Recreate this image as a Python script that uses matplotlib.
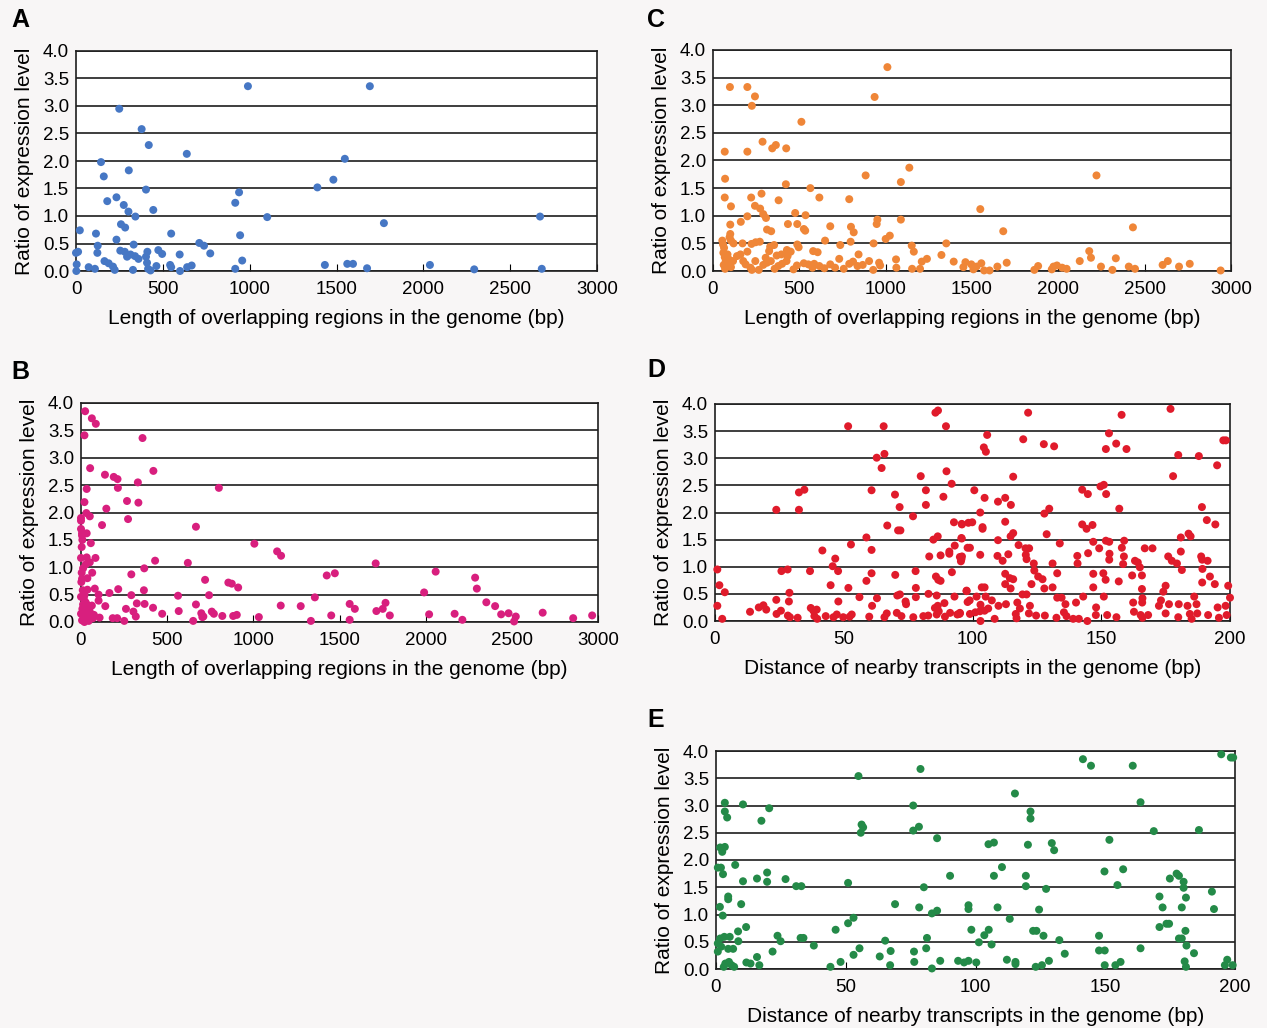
import numpy as np
import matplotlib
matplotlib.use('Agg')
import matplotlib.pyplot as plt

plt.rcParams['font.family'] = ['Liberation Sans', 'DejaVu Sans']

# (length or distance, ratio)
a_pts = [(990, 3.36), (1692, 3.36), (249, 2.95), (378, 2.58), (419, 2.29), (638, 2.13),
         (144, 1.98), (1548, 2.04), (160, 1.72), (304, 1.83), (1482, 1.66), (1390, 1.52),
         (403, 1.48), (939, 1.43), (917, 1.24), (180, 1.27), (233, 1.34), (275, 1.20),
         (302, 1.08), (342, 0.99), (445, 1.11), (1101, 0.98), (2672, 0.99), (1773, 0.87),
         (259, 0.85), (283, 0.79), (22, 0.74), (115, 0.68), (548, 0.68), (945, 0.65),
         (233, 0.57), (125, 0.46), (332, 0.48), (710, 0.51), (737, 0.46), (773, 0.32),
         (0, 0.33), (12, 0.35), (123, 0.33), (255, 0.37), (281, 0.35), (294, 0.26),
         (314, 0.30), (340, 0.27), (360, 0.22), (411, 0.35), (403, 0.26), (474, 0.38),
         (496, 0.31), (597, 0.30), (164, 0.18), (188, 0.14), (213, 0.08), (223, 0.02),
         (73, 0.07), (109, 0.04), (4, 0.12), (2, 0.0), (328, 0.02), (415, 0.04),
         (429, 0.01), (463, 0.09), (409, 0.15), (542, 0.11), (548, 0.07), (599, 0.0),
         (640, 0.07), (666, 0.10), (917, 0.04), (957, 0.19), (1433, 0.11), (1562, 0.13),
         (1595, 0.13), (1676, 0.05), (2038, 0.11), (2293, 0.03), (2682, 0.04)]

b_pts = [(24, 3.85), (63, 3.72), (86, 3.62), (20, 3.41), (357, 3.36), (53, 2.81), (420, 2.76),
         (139, 2.69), (190, 2.65), (212, 2.61), (330, 2.55), (33, 2.43), (214, 2.45), (800, 2.45),
         (20, 2.19), (267, 2.21), (333, 2.18), (147, 2.07), (31, 1.99), (51, 1.93), (273, 1.88),
         (0, 1.90), (0, 1.85), (0, 1.70), (6, 1.62), (6, 1.58), (122, 1.77), (667, 1.74),
         (33, 1.62), (57, 1.44), (1006, 1.43), (1138, 1.29), (1161, 1.21), (0, 1.17), (33, 1.18),
         (51, 1.09), (84, 1.17), (430, 1.12), (620, 1.08), (1710, 1.07), (367, 0.98), (2058, 0.92),
         (65, 0.90), (292, 0.87), (1426, 0.85), (1473, 0.89), (2287, 0.81), (6, 0.79), (37, 0.80),
         (720, 0.77), (855, 0.72), (875, 0.70), (912, 0.63), (2, 0.73), (10, 0.58), (37, 0.59),
         (80, 0.61), (216, 0.60), (365, 0.58), (2297, 0.61), (165, 0.53), (102, 0.50), (292, 0.49),
         (563, 0.48), (743, 0.49), (1991, 0.54), (0, 0.46), (16, 0.43), (102, 0.39), (1357, 0.45),
         (324, 0.34), (369, 0.33), (667, 0.32), (1159, 0.30), (1275, 0.29), (1767, 0.35),
         (2352, 0.36), (2403, 0.29), (141, 0.29), (261, 0.24), (418, 0.26), (567, 0.20),
         (759, 0.19), (1559, 0.33), (1589, 0.24), (1714, 0.20), (1751, 0.24), (304, 0.19),
         (471, 0.15), (698, 0.16), (710, 0.10), (771, 0.15), (820, 0.11), (883, 0.11), (904, 0.13),
         (1032, 0.09), (318, 0.10), (184, 0.07), (210, 0.07), (251, 0.02), (108, 0.08), (651, 0.02),
         (704, 0.09), (1452, 0.12), (1559, 0.04), (1334, 0.02), (1792, 0.12), (2020, 0.14),
         (2168, 0.15), (2213, 0.04), (2438, 0.14), (2481, 0.16), (2523, 0.10), (2513, 0.01),
         (2679, 0.17), (2856, 0.07), (2966, 0.12), (8, 0.24), (27, 0.18), (41, 0.12), (57, 0.15),
         (16, 0.09), (37, 0.06), (69, 0.07), (6, 0.03), (49, 0.21), (63, 0.30), (27, 0.36),
         (47, 0.27), (0, 0.15), (20, 0.49), (33, 0.32), (12, 0.32), (45, 0.02), (20, 0.0),
         (75, 0.13), (8, 1.50), (4, 1.37), (27, 1.05), (12, 0.98), (4, 0.90)]

c_pts = [(1010, 3.69), (98, 3.33), (199, 3.33), (243, 3.16), (936, 3.15), (225, 2.99), (512, 2.70),
         (287, 2.34), (343, 2.22), (364, 2.28), (424, 2.22), (68, 2.16), (199, 2.16), (1137, 1.87),
         (884, 1.73), (2221, 1.73), (70, 1.67), (1088, 1.61), (422, 1.57), (564, 1.50), (68, 1.33),
         (221, 1.33), (281, 1.40), (616, 1.33), (789, 1.30), (380, 1.28), (104, 1.17), (243, 1.18),
         (273, 1.13), (1548, 1.12), (291, 1.03), (307, 0.96), (476, 1.05), (536, 1.01), (199, 0.99),
         (161, 0.89), (100, 0.84), (434, 0.85), (488, 0.85), (526, 0.76), (534, 0.73), (679, 0.81),
         (799, 0.80), (815, 0.70), (952, 0.93), (948, 0.85), (1088, 0.93), (1681, 0.72), (2432, 0.79),
         (313, 0.75), (337, 0.72), (100, 0.67), (96, 0.61), (104, 0.55), (171, 0.50), (119, 0.50),
         (223, 0.49), (247, 0.52), (271, 0.53), (331, 0.44), (354, 0.47), (488, 0.48), (496, 0.43),
         (649, 0.55), (737, 0.47), (797, 0.53), (930, 0.50), (1000, 0.58), (1024, 0.64), (1151, 0.46),
         (1163, 0.35), (1351, 0.50), (1323, 0.29), (580, 0.36), (606, 0.34), (428, 0.38), (450, 0.35),
         (432, 0.27), (369, 0.28), (843, 0.30), (2179, 0.36), (2189, 0.24), (2333, 0.23), (2124, 0.18),
         (2604, 0.11), (2634, 0.18), (2699, 0.08), (2761, 0.13), (2940, 0.01), (2408, 0.08),
         (2444, 0.04), (2247, 0.08), (2313, 0.02), (1861, 0.02), (1883, 0.09), (1972, 0.08),
         (1992, 0.10), (2022, 0.06), (2048, 0.04), (1962, 0.03), (1701, 0.15), (1647, 0.08),
         (1602, 0.01), (1570, 0.01), (1554, 0.14), (1526, 0.08), (1496, 0.12), (1462, 0.16),
         (1450, 0.07), (1508, 0.03), (1394, 0.17), (1239, 0.22), (1209, 0.17), (1153, 0.04),
         (1199, 0.04), (1060, 0.21), (1062, 0.06), (962, 0.15), (928, 0.02), (904, 0.18), (867, 0.11),
         (811, 0.17), (789, 0.13), (757, 0.04), (731, 0.22), (679, 0.12), (645, 0.05), (616, 0.09),
         (586, 0.13), (552, 0.12), (526, 0.14), (486, 0.10), (466, 0.03), (426, 0.18), (400, 0.13),
         (378, 0.09), (357, 0.04), (335, 0.18), (313, 0.15), (291, 0.11), (265, 0.02), (245, 0.18),
         (217, 0.06), (189, 0.12), (175, 0.18), (159, 0.30), (139, 0.27), (116, 0.18), (199, 0.35),
         (64, 0.42), (60, 0.33), (68, 0.25), (74, 0.18), (62, 0.11), (70, 0.04), (84, 0.30),
         (92, 0.21), (88, 0.12), (104, 0.07), (54, 0.55), (58, 0.48), (225, 0.02), (305, 0.24),
         (396, 0.30), (576, 0.06), (707, 0.06), (837, 0.09), (968, 0.10), (325, 0.36)]

d_pts = [(0.9, 0.95), (1.7, 0.66), (3.8, 0.53), (0.9, 0.28), (2.8, 0.04), (13.6, 0.17), (17.0, 0.25),
         (18.8, 0.29), (19.9, 0.21), (23.8, 2.05), (23.8, 0.39), (23.9, 0.13), (25.6, 0.19),
         (25.8, 0.92), (28.2, 0.95), (28.9, 0.52), (28.7, 0.36), (28.3, 0.10), (29.1, 0.07),
         (32.1, 0.06), (32.6, 2.37), (34.7, 2.42), (32.6, 2.05), (36.9, 0.92), (37.2, 0.24),
         (38.2, 0.19), (39.5, 0.21), (38.6, 0.09), (39.7, 0.04), (41.7, 1.30), (43.0, 0.09),
         (44.9, 0.66), (45.7, 1.01), (46.7, 1.15), (47.8, 0.92), (47.9, 0.36), (46.0, 0.07),
         (47.3, 0.12), (49.8, 0.07), (51.7, 3.59), (51.8, 0.61), (52.3, 0.08), (53.1, 0.12),
         (52.8, 1.41), (56.1, 0.44), (58.8, 1.54), (58.8, 0.74), (59.9, 0.08), (60.8, 2.41),
         (60.8, 1.31), (60.8, 0.88), (61.0, 0.28), (62.8, 3.01), (62.9, 0.42), (64.7, 2.82),
         (65.8, 3.08), (65.5, 3.59), (65.8, 0.07), (66.9, 1.76), (66.7, 0.14), (69.9, 2.33),
         (70.0, 0.85), (71.1, 1.67), (72.0, 1.67), (71.7, 2.10), (70.8, 0.47), (71.8, 0.49),
         (70.6, 0.15), (72.4, 0.09), (74.0, 0.36), (74.2, 0.31), (76.9, 1.93), (77.0, 0.07),
         (77.9, 0.92), (78.0, 0.61), (78.0, 0.44), (79.9, 2.67), (81.9, 2.41), (81.9, 2.14),
         (80.9, 0.09), (82.8, 0.10), (82.9, 0.50), (83.2, 1.19), (84.8, 1.50), (86.5, 1.56),
         (85.6, 3.84), (86.6, 3.88), (86.1, 0.47), (85.4, 0.24), (86.5, 0.28), (86.9, 0.18),
         (85.8, 0.82), (86.7, 0.76), (87.6, 0.74), (86.1, 0.12), (87.6, 1.21), (88.7, 2.29),
         (89.7, 3.59), (89.9, 2.76), (89.1, 0.33), (89.3, 0.08), (91.0, 1.24), (91.0, 1.28),
         (91.9, 2.53), (92.0, 0.90), (92.8, 1.82), (93.1, 1.39), (93.0, 0.45), (91.3, 0.15),
         (94.1, 0.12), (95.1, 0.15), (95.8, 1.79), (95.8, 1.52), (95.1, 1.18), (95.5, 1.10),
         (94.9, 0.13), (98.4, 1.81), (98.1, 1.35), (97.7, 0.55), (98.1, 0.35),
         (121.6, 3.84), (157.9, 3.80), (176.9, 3.91), (105.7, 3.43), (119.7, 3.35), (127.7, 3.26),
         (131.7, 3.22), (104.4, 3.20), (105.2, 3.12), (153.0, 3.46), (151.8, 3.17), (155.8, 3.27),
         (159.8, 3.17), (179.9, 3.06), (187.9, 3.04), (197.4, 3.33), (198.4, 3.33), (195.0, 2.87),
         (115.8, 2.66), (177.9, 2.67), (100.7, 2.41), (104.7, 2.27), (109.9, 2.20), (112.7, 2.27),
         (114.9, 2.14), (142.6, 2.42), (144.8, 2.34), (149.7, 2.48), (151.0, 2.51), (151.9, 2.34),
         (157.0, 2.07), (103.0, 2.00), (127.9, 1.98), (129.8, 2.07), (189.1, 2.10), (95.9, 1.78),
         (99.9, 1.82), (103.9, 1.73), (103.9, 1.70), (112.7, 1.83), (142.6, 1.78), (144.3, 1.70),
         (146.6, 1.77), (191.0, 1.86), (194.3, 1.78), (95.7, 1.53), (109.9, 1.49), (114.8, 1.56),
         (115.8, 1.62), (117.9, 1.40), (128.8, 1.60), (133.9, 1.43), (146.9, 1.46), (151.8, 1.48),
         (153.1, 1.46), (158.9, 1.48), (180.9, 1.54), (183.9, 1.61), (184.7, 1.56), (95.9, 1.19),
         (95.7, 1.14), (99.0, 1.35), (103.0, 1.22), (109.7, 1.20), (111.7, 1.11), (113.9, 1.23),
         (120.6, 1.34), (122.0, 1.34), (120.7, 1.22), (121.0, 1.14), (123.8, 1.06), (131.1, 1.06),
         (140.7, 1.20), (140.8, 1.06), (144.9, 1.25), (149.2, 1.34), (153.2, 1.24), (153.1, 1.13),
         (158.0, 1.35), (158.8, 1.19), (158.5, 1.05), (163.1, 1.11), (164.2, 1.08), (165.0, 0.99),
         (166.9, 1.34), (169.9, 1.34), (176.0, 1.19), (177.4, 1.11), (179.4, 1.06), (180.9, 1.28),
         (181.3, 0.94), (188.8, 1.19), (189.2, 1.13), (191.3, 1.11), (189.3, 0.96), (124.0, 0.93),
         (125.5, 0.82), (127.2, 0.77), (132.9, 0.88), (146.9, 0.87), (151.7, 0.76), (150.8, 0.88),
         (162.0, 0.84), (165.8, 0.84), (192.2, 0.82), (112.7, 0.87), (112.7, 0.68), (114.5, 0.79),
         (115.8, 0.77), (114.8, 0.60), (122.9, 0.68), (127.9, 0.60), (131.1, 0.62), (146.9, 0.62),
         (156.8, 0.73), (165.8, 0.59), (175.0, 0.65), (174.1, 0.54), (189.2, 0.71), (194.1, 0.68),
         (199.3, 0.65), (200.0, 0.43), (103.6, 0.62), (104.7, 0.62), (97.7, 0.56), (98.9, 0.38),
         (101.6, 0.45), (103.1, 0.30), (105.1, 0.45), (107.5, 0.38), (106.1, 0.23), (110.1, 0.28),
         (113.0, 0.31), (117.4, 0.34), (119.4, 0.49), (121.0, 0.49), (118.4, 0.23), (122.3, 0.28),
         (132.9, 0.43), (134.6, 0.43), (136.1, 0.31), (140.2, 0.34), (143.0, 0.45), (148.0, 0.25),
         (151.0, 0.45), (166.0, 0.42), (165.9, 0.34), (162.4, 0.34), (172.4, 0.28), (173.2, 0.38),
         (176.3, 0.31), (180.1, 0.31), (183.5, 0.28), (186.1, 0.45), (187.0, 0.31), (195.2, 0.25),
         (198.3, 0.28), (95.1, 0.14), (99.0, 0.13), (101.1, 0.16), (102.9, 0.18), (104.7, 0.19),
         (103.1, 0.0), (108.6, 0.04), (116.8, 0.13), (117.1, 0.05), (121.9, 0.14), (124.7, 0.10),
         (128.1, 0.10), (132.6, 0.06), (135.5, 0.16), (136.5, 0.09), (139.1, 0.04), (141.3, 0.04),
         (144.6, 0.0), (147.9, 0.11), (152.3, 0.11), (155.9, 0.07), (162.7, 0.17), (165.3, 0.11),
         (166.0, 0.06), (168.2, 0.11), (175.0, 0.14), (179.9, 0.07), (184.4, 0.13), (185.1, 0.04),
         (187.3, 0.14), (191.5, 0.11), (195.7, 0.06), (198.7, 0.11)]

e_pts = [(141.4, 3.85), (144.5, 3.73), (160.6, 3.73), (194.7, 3.94), (198.4, 3.88), (199.3, 3.88),
         (78.8, 3.67), (54.9, 3.54), (115.2, 3.22), (3.4, 3.05), (10.4, 3.02), (20.5, 2.95),
         (76.0, 3.00), (163.6, 3.06), (3.4, 2.89), (4.3, 2.78), (17.5, 2.72), (121.2, 2.89),
         (121.2, 2.76), (56.1, 2.65), (56.7, 2.60), (55.8, 2.50), (76.0, 2.54), (78.2, 2.61),
         (168.7, 2.53), (186.1, 2.55), (85.2, 2.40), (151.6, 2.37), (105.0, 2.29), (107.1, 2.32),
         (120.2, 2.28), (129.4, 2.31), (130.3, 2.18), (1.6, 2.23), (3.4, 2.24), (2.4, 2.15),
         (0.7, 1.86), (1.9, 1.86), (2.7, 1.74), (7.4, 1.91), (110.2, 1.87), (10.4, 1.61),
         (15.8, 1.66), (19.7, 1.77), (19.7, 1.60), (26.8, 1.65), (30.9, 1.52), (32.9, 1.52),
         (50.9, 1.58), (80.1, 1.50), (90.2, 1.71), (107.1, 1.71), (119.4, 1.71), (119.4, 1.52),
         (127.2, 1.47), (149.7, 1.79), (156.9, 1.83), (154.7, 1.54), (174.9, 1.66), (177.5, 1.75),
         (178.4, 1.71), (180.2, 1.60), (180.2, 1.49), (191.1, 1.42), (4.7, 1.33), (4.7, 1.28),
         (9.7, 1.19), (1.5, 1.14), (2.6, 0.98), (69.0, 1.19), (78.3, 1.13), (83.2, 1.02),
         (85.2, 1.07), (97.3, 1.17), (97.3, 1.10), (108.5, 1.13), (113.2, 0.92), (124.5, 1.09),
         (170.9, 1.33), (172.1, 1.13), (179.5, 1.13), (181.1, 1.31), (191.9, 1.10), (170.9, 0.77),
         (173.6, 0.83), (174.6, 0.83), (180.9, 0.70), (178.4, 0.56), (179.5, 0.56), (181.3, 0.43),
         (184.2, 0.29), (180.6, 0.14), (181.1, 0.04), (196.1, 0.07), (197.0, 0.17), (199.1, 0.07),
         (11.6, 0.77), (8.5, 0.69), (8.6, 0.51), (3.2, 0.59), (5.3, 0.59), (1.6, 0.56), (0.7, 0.47),
         (2.0, 0.41), (0.7, 0.32), (4.7, 0.37), (6.6, 0.37), (3.6, 0.10), (5.0, 0.13), (6.0, 0.07),
         (3.0, 0.04), (7.0, 0.04), (11.7, 0.12), (13.3, 0.10), (15.8, 0.22), (16.7, 0.07),
         (21.8, 0.32), (23.7, 0.61), (24.9, 0.51), (32.6, 0.57), (33.7, 0.57), (37.7, 0.43),
         (44.1, 0.04), (46.1, 0.72), (48.0, 0.13), (50.9, 0.84), (53.0, 0.94), (53.0, 0.26),
         (55.3, 0.38), (63.1, 0.23), (65.2, 0.52), (67.3, 0.33), (67.1, 0.07), (76.3, 0.32),
         (76.4, 0.13), (81.3, 0.57), (81.0, 0.38), (83.2, 0.01), (86.4, 0.15), (93.3, 0.15),
         (95.6, 0.12), (97.3, 0.15), (98.4, 0.72), (100.3, 0.12), (101.3, 0.49), (103.4, 0.62),
         (105.1, 0.72), (106.2, 0.45), (112.1, 0.17), (115.4, 0.13), (115.4, 0.09), (122.2, 0.70),
         (123.5, 0.70), (126.2, 0.61), (123.2, 0.04), (125.6, 0.07), (128.3, 0.15), (132.3, 0.53),
         (134.4, 0.28), (147.6, 0.61), (147.6, 0.34), (149.8, 0.34), (149.8, 0.07), (153.9, 0.07),
         (155.9, 0.13), (163.6, 0.38)]

y_ticks = [0.0, 0.5, 1.0, 1.5, 2.0, 2.5, 3.0, 3.5, 4.0]
len_ticks = [0, 500, 1000, 1500, 2000, 2500, 3000]
dist_ticks = [0, 50, 100, 150, 200]
len_label = 'Length of overlapping regions in the genome (bp)'
dist_label = 'Distance of nearby transcripts in the genome (bp)'
y_label = 'Ratio of expression level'

W, H = 1267, 1028


def box(l, t, r, b):
    return [l / W, 1 - b / H, (r - l) / W, (b - t) / H]


panels = [
    ('A', a_pts, '#4677c4', box(76, 51, 597, 271), len_ticks, len_label, (20, 20)),
    ('B', b_pts, '#d81f7e', box(81, 403, 598, 622), len_ticks, len_label, (20, 372)),
    ('C', c_pts, '#ef8638', box(713, 50, 1231, 271), len_ticks, len_label, (656, 20)),
    ('D', d_pts, '#e01b2b', box(715, 404, 1230, 621), dist_ticks, dist_label, (656, 370)),
    ('E', e_pts, '#248a48', box(716, 751, 1235, 969), dist_ticks, dist_label, (656, 720)),
]

fig = plt.figure(figsize=(12.67, 10.28), dpi=100, facecolor='#f8f6f6')

for letter, pts, color, rect, xt, xlab, lpos in panels:
    ax = fig.add_axes(rect)
    ax.set_facecolor('white')
    x, y = zip(*pts)
    ax.scatter(x, y, s=33, color=color, edgecolors='none', clip_on=False, zorder=3)
    ax.set_xlim(xt[0], xt[-1])
    ax.set_ylim(0, 4.0)
    ax.set_xticks(xt)
    ax.set_yticks(y_ticks)
    ax.yaxis.set_major_formatter('{x:.1f}')
    ax.grid(axis='y', color='#1e1e1e', lw=1.2)
    ax.set_axisbelow(True)
    for s in ax.spines.values():
        s.set_color('#1e1e1e')
        s.set_linewidth(1.2)
    ax.tick_params(axis='y', length=0, pad=5, labelsize=13.5)
    ax.tick_params(axis='x', direction='in', length=5, pad=7, labelsize=13.5)
    ax.set_xlabel(xlab, fontsize=15, labelpad=8)
    ax.set_ylabel(y_label, fontsize=15, labelpad=6)
    fig.text(lpos[0] / W, 1 - lpos[1] / H, letter, fontsize=18, fontweight='bold',
             ha='center', va='center')

fig.savefig('out.png', dpi=100, facecolor=fig.get_facecolor())
